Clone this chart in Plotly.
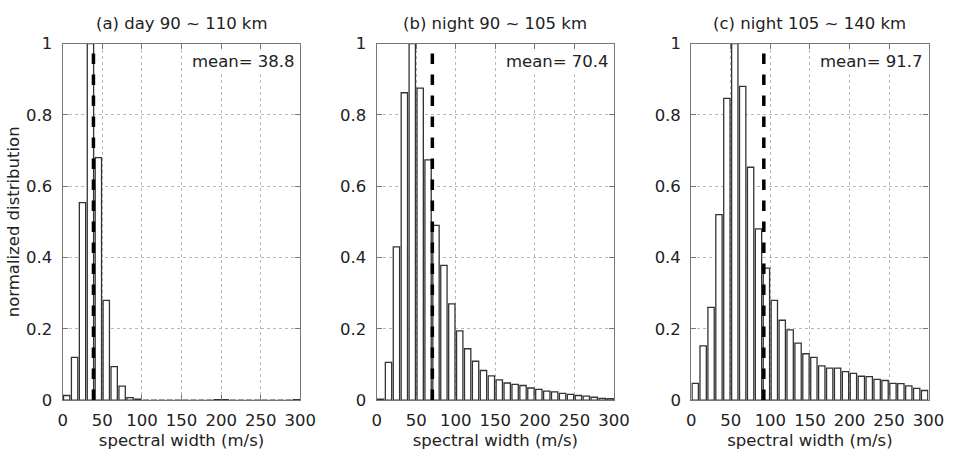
import plotly.graph_objects as go

bin_centers = [5 + 10 * i for i in range(30)]

day_90_110 = [0.013, 0.12, 0.554, 1.0, 0.68, 0.28, 0.094, 0.039, 0.007, 0.003,
              0, 0, 0, 0, 0, 0, 0, 0, 0, 0.001,
              0.001, 0, 0, 0, 0, 0, 0, 0, 0, 0.001]
night_90_105 = [0.003, 0.106, 0.43, 0.862, 1.0, 0.875, 0.674, 0.49, 0.378, 0.27,
                0.194, 0.144, 0.109, 0.083, 0.068, 0.057, 0.048, 0.044, 0.041, 0.034,
                0.03, 0.025, 0.023, 0.019, 0.016, 0.013, 0.011, 0.008, 0.005, 0.004]
night_105_140 = [0.047, 0.152, 0.26, 0.52, 0.846, 1.0, 0.88, 0.653, 0.48, 0.37,
                 0.28, 0.224, 0.197, 0.16, 0.13, 0.12, 0.096, 0.09, 0.09, 0.08,
                 0.075, 0.067, 0.066, 0.058, 0.055, 0.047, 0.046, 0.04, 0.033, 0.027]

panel_titles = ["(a) day 90 ~ 110 km", "(b) night 90 ~ 105 km", "(c) night 105 ~ 140 km"]
means = [38.8, 70.4, 91.7]
series = [day_90_110, night_90_105, night_105_140]
x_ticks = [0, 50, 100, 150, 200, 250, 300]
y_ticks = [0, 0.2, 0.4, 0.6, 0.8, 1]
y_ticklabels = ["0", "0.2", "0.4", "0.6", "0.8", "1"]

W, H = 956, 467
x_doms = [(59 / W, 302 / W), (380 / W, 622.7 / W), (701.7 / W, 944.3 / W)]
y_dom = (1 - 407.7 / H, 1 - 36 / H)

FONT = "DejaVu Sans, Liberation Sans, sans-serif"
FS = 16.5
fig = go.Figure()
layout = dict(
    width=W, height=H, margin=dict(l=0, r=0, t=0, b=0),
    paper_bgcolor="white", plot_bgcolor="white", showlegend=False,
    font=dict(family=FONT, size=FS, color="#222"),
)
annotations = []
for i in range(3):
    sfx = "" if i == 0 else str(i + 1)
    xa, ya = "x" + sfx, "y" + sfx
    fig.add_trace(go.Bar(x=bin_centers, y=series[i], width=8,
                         marker=dict(color="white", line=dict(color="#333", width=1.3)),
                         xaxis=xa, yaxis=ya))
    fig.add_trace(go.Scatter(x=[means[i], means[i]], y=[0, 1], mode="lines",
                             line=dict(color="black", width=3.5, dash="dash"),
                             xaxis=xa, yaxis=ya))
    common = dict(showline=True, linecolor="#777", linewidth=1.2, mirror="allticks",
                  ticks="inside", ticklen=5, tickcolor="#777",
                  showgrid=True, gridcolor="#b8b8b8", griddash="dot", gridwidth=1,
                  zeroline=False, tickfont=dict(size=FS, color="#222"))
    layout["xaxis" + sfx] = dict(domain=x_doms[i], range=[0, 300], tickvals=x_ticks,
                                 anchor=ya, ticklabelstandoff=5, **common,
                                 title=dict(text="spectral width (m/s)", standoff=5,
                                            font=dict(size=FS)))
    layout["yaxis" + sfx] = dict(domain=y_dom, range=[0, 1], tickvals=y_ticks,
                                 ticktext=y_ticklabels, anchor=xa,
                                 ticklabelstandoff=6, **common)
    annotations.append(dict(text=panel_titles[i], xref=xa + " domain", yref="paper",
                            x=0.5, y=1 - 15 / H, xanchor="center", yanchor="middle",
                            showarrow=False, font=dict(size=FS)))
    annotations.append(dict(text="mean= %.1f" % means[i], xref=xa, yref=ya,
                            x=296, y=0.95, xanchor="right", yanchor="middle",
                            showarrow=False, bgcolor="white", font=dict(size=FS)))
layout["yaxis"]["title"] = dict(text="normalized distribution", standoff=2, font=dict(size=FS))
layout["annotations"] = annotations
fig.update_layout(**layout)
fig.write_html("out.html")
